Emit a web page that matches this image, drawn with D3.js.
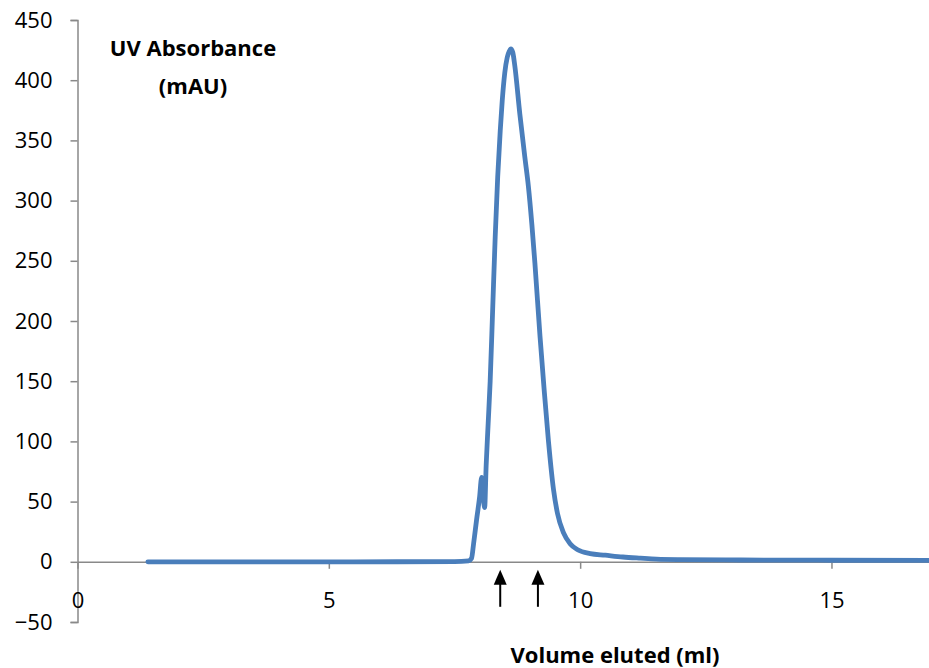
<!DOCTYPE html>
<html>
<head>
<meta charset="utf-8">
<script src="https://cdn.jsdelivr.net/npm/d3@7"></script>
<style>
  html, body { margin: 0; padding: 0; background: #fff; }
  svg { display: block; }
  .tick text { font-family: "Open Sans", sans-serif; }
</style>
</head>
<body>
<svg id="chart" width="929" height="668"></svg>
<script>
// ---- Data ----
const volume = [1.40, 3.5, 5.5, 7.5, 7.78, 7.84, 7.88, 7.94, 8.00, 8.04, 8.07, 8.10, 8.13, 8.17,
  8.21, 8.26, 8.31, 8.36, 8.41, 8.45, 8.50, 8.55, 8.59, 8.62, 8.66, 8.70, 8.80, 8.90, 8.97,
  9.04, 9.10, 9.20, 9.28, 9.37, 9.47, 9.55, 9.67, 9.80, 9.95, 10.2, 10.5, 10.85, 11.2, 11.52,
  12.0, 13.2, 15.0, 17.2];
const absorbance = [0, 0, 0, 0.2, 0.8, 3, 15, 35, 54, 70, 55, 45, 80, 115,
  150, 210, 270, 320, 358, 383, 406, 419, 424, 426, 423, 412, 372, 336, 312,
  280, 248, 188, 145, 100, 60, 40, 24, 15, 10, 6.8, 5.5, 4, 3, 2.2,
  1.8, 1.5, 1.3, 1.2];
const arrowVolumes = [8.41, 9.16];
const xTicks = [0, 5, 10, 15];
const yTicks = [-50, 0, 50, 100, 150, 200, 250, 300, 350, 400, 450];
const yLabel = ["UV Absorbance", "(mAU)"];
const xLabel = "Volume eluted (ml)";

// ---- Layout ----
const svg = d3.select("#chart");
const x = d3.scaleLinear().domain([0, 17]).range([77.5, 932]);
const y = d3.scaleLinear().domain([-50, 450]).range([622, 20]);
const axisColor = "#898989";

// Y axis
const yAxis = svg.append("g")
  .attr("transform", `translate(${x(0)},0)`)
  .call(d3.axisLeft(y).tickValues(yTicks).tickSize(7).tickPadding(18).tickFormat(d3.format("d")));
yAxis.select(".domain").attr("stroke", axisColor).attr("stroke-width", 1.5);
yAxis.selectAll(".tick line").attr("stroke", axisColor).attr("stroke-width", 1.5);
yAxis.selectAll(".tick text").attr("font-size", 22).attr("fill", "#000");

// X axis at y=0
const xAxis = svg.append("g")
  .attr("transform", `translate(0,${y(0)})`)
  .call(d3.axisBottom(x).tickValues(xTicks).tickSize(7).tickSizeOuter(0).tickPadding(24).tickFormat(d3.format("d")));
xAxis.select(".domain").attr("stroke", axisColor).attr("stroke-width", 1.5);
xAxis.selectAll(".tick line").attr("stroke", axisColor).attr("stroke-width", 1.5);
xAxis.selectAll(".tick text").attr("font-size", 22).attr("fill", "#000");

// Line
const data = volume.map((v, i) => [v, absorbance[i]]);
const line = d3.line()
  .x(d => x(d[0]))
  .y(d => y(d[1]))
  .curve(d3.curveMonotoneX);
svg.append("path")
  .datum(data)
  .attr("d", line)
  .attr("fill", "none")
  .attr("stroke", "#4a7ebb")
  .attr("stroke-width", 4.8)
  .attr("stroke-linecap", "round")
  .attr("stroke-linejoin", "round");

// Arrows
const arrows = svg.append("g");
arrowVolumes.forEach(v => {
  const cx = x(v);
  const top = y(0) + 8;
  arrows.append("line")
    .attr("x1", cx).attr("x2", cx)
    .attr("y1", top + 10).attr("y2", top + 37)
    .attr("stroke", "#000").attr("stroke-width", 2);
  arrows.append("path")
    .attr("d", `M${cx},${top} L${cx - 6.5},${top + 15} L${cx + 6.5},${top + 15} Z`)
    .attr("fill", "#000");
});

// Labels
const yl = svg.append("text")
  .attr("font-family", "'Open Sans', sans-serif")
  .attr("font-weight", "bold")
  .attr("font-size", 22)
  .attr("text-anchor", "middle")
  .attr("fill", "#000");
yl.append("tspan").attr("x", 193).attr("y", 56).text(yLabel[0]);
yl.append("tspan").attr("x", 193).attr("y", 94).text(yLabel[1]);

svg.append("text")
  .attr("x", 615).attr("y", 663)
  .attr("font-family", "'Open Sans', sans-serif")
  .attr("font-weight", "bold")
  .attr("font-size", 22)
  .attr("text-anchor", "middle")
  .attr("fill", "#000")
  .text(xLabel);
</script>
</body>
</html>
